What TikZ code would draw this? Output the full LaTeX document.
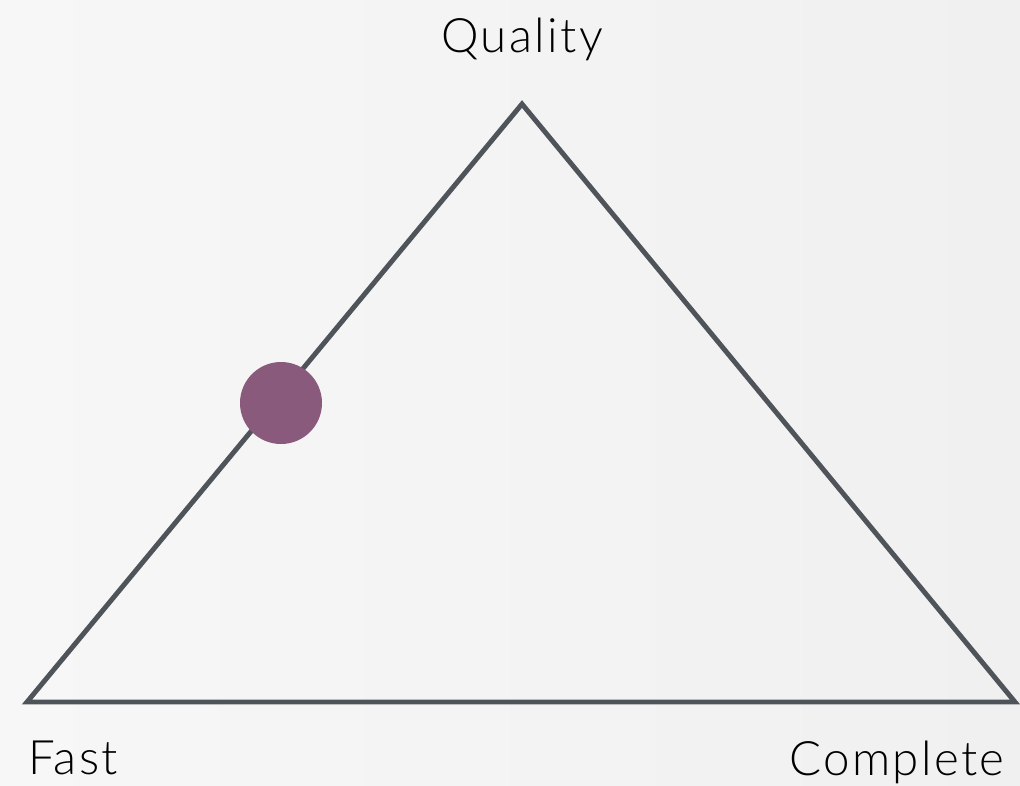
\documentclass[tikz,border=0pt]{standalone}
\usepackage{fontspec}
\setmainfont{Lato Light}[LetterSpace=5]
\definecolor{edgegray}{HTML}{4F545B}
\definecolor{dotpurple}{HTML}{895A7B}
\begin{document}
\begin{tikzpicture}[x=0.02cm,y=-0.02cm]
        \shade [left color={rgb,255:red,247;green,247;blue,247},right color={rgb,255:red,240;green,240;blue,240}] (0,0) rectangle (1020,785);
        \useasboundingbox (0,0) rectangle (1020,785);
        \coordinate (top) at (522,104);
        \coordinate (fast) at (27,702);
        \coordinate (complete) at (1015,702);
        \draw[edgegray,line width=2.8pt,line join=miter] (top) -- (fast) -- (complete) -- cycle;
        \node [circle,fill=dotpurple,minimum size=82*0.02cm,inner sep=0pt] (dot) at (281,403) {};
        \node [anchor=base,inner sep=0pt,font=\fontsize{27}{32}\selectfont] (quality) at (522,52) {Quality};
        \node [anchor=base west,inner sep=0pt,font=\fontsize{27}{32}\selectfont] (fastlabel) at (28,774) {Fast};
        \node [anchor=base east,inner sep=0pt,font=\fontsize{27}{32}\selectfont] (completelabel) at (1005,775) {Complete};
      \end{tikzpicture}
\end{document}
